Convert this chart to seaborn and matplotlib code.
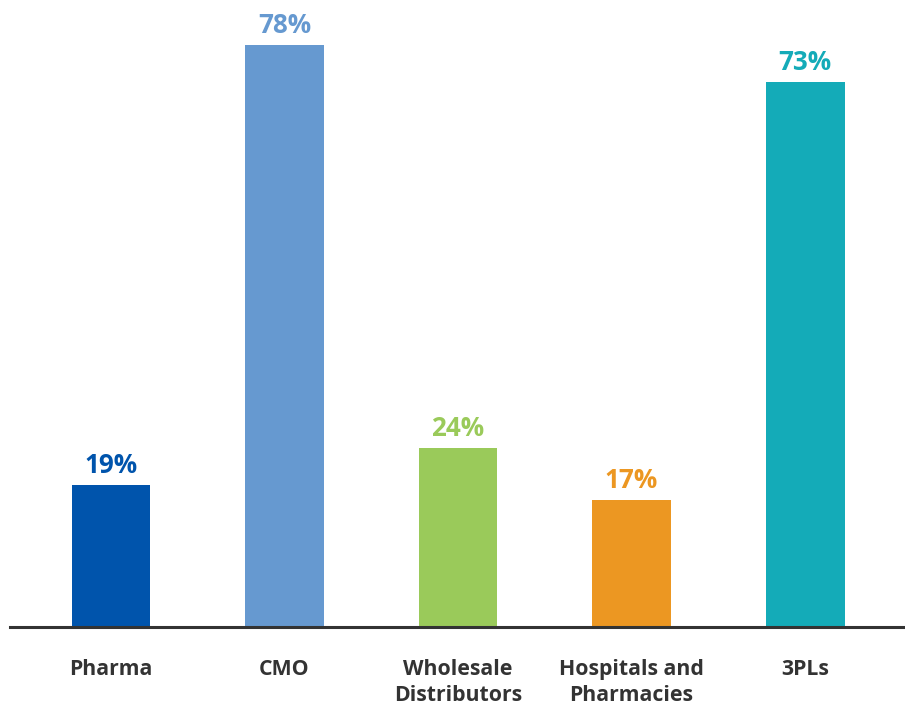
import matplotlib
matplotlib.use("Agg")
import matplotlib.pyplot as plt
import seaborn as sns
import pandas as pd

categories = ["Pharma", "CMO", "Wholesale\nDistributors", "Hospitals and\nPharmacies", "3PLs"]
values = [19, 78, 24, 17, 73]
colors = ["#0054AC", "#6699D0", "#9ACA5A", "#EC9722", "#14ABB8"]

sns.set_theme(style="white")
plt.rcParams['font.family'] = ['Open Sans', 'DejaVu Sans']

df = pd.DataFrame({"cat": categories, "val": values})

fig = plt.figure(figsize=(9.05, 7.04), dpi=100)
ax = fig.add_axes([10/905, 77/704, 895/905, 627/704])
sns.barplot(data=df, x="cat", y="val", hue="cat", palette=colors, width=0.455,
            legend=False, ax=ax, saturation=1, linewidth=0)

ax.set_xlim(-0.582, 4.576)
ax.set_ylim(0, 84)
for s in ["top", "right", "left"]:
    ax.spines[s].set_visible(False)
ax.spines["bottom"].set_color("#333333")
ax.spines["bottom"].set_linewidth(2.2)
ax.set_yticks([])
ax.set_xlabel("")
ax.set_ylabel("")
ax.tick_params(axis="x", length=0, pad=23)
for lbl in ax.get_xticklabels():
    lbl.set_fontsize(15.3)
    lbl.set_fontweight("bold")
    lbl.set_color("#333333")
    lbl.set_linespacing(1.3)
    lbl.set_verticalalignment("top")

for i, (v, c) in enumerate(zip(values, colors)):
    ax.annotate(f"{v}%", (i, v), xytext=(0, 6), textcoords="offset pixels",
                ha="center", va="bottom", fontsize=18.7, fontweight="bold", color=c)

fig.savefig("out.png", dpi=100)
